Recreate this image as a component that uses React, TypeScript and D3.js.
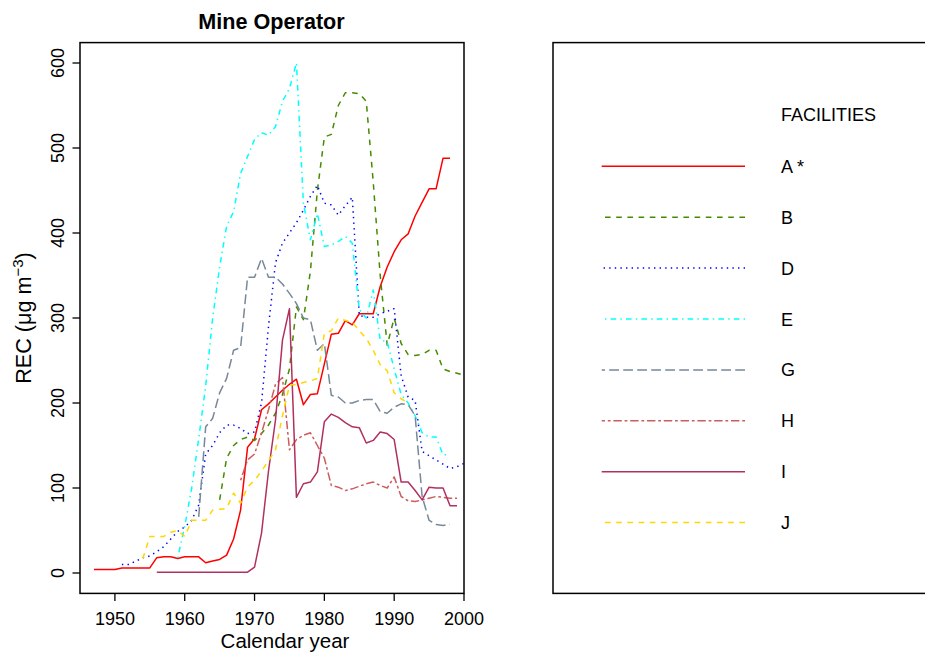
import React from "react";
import * as d3 from "d3";

const facilityLabels = ["A *", "B", "D", "E", "G", "H", "I", "J"];
const facilityColors = ["#FF0000", "#458B00", "#0000FF", "#00FFFF", "#778899", "#CD5C5C", "#B03060", "#FFD700"];
const facilityDashes = ["", "5.6 5.6", "1.4 4.2", "1.4 4.2 5.6 4.2", "9.8 4.2", "2.8 2.8 8.4 2.8", "", "5.6 5.6"];

const startA = 1947;
const recA = [4, 4, 4, 4, 6, 6, 6, 6, 6, 18, 19, 19, 17, 19, 19, 19, 12, 14, 16, 21, 40, 74, 148, 158, 192, 199, 207, 215, 222, 228, 198, 210, 211, 246, 281, 282, 297, 292, 305, 305, 305, 337, 360, 378, 392, 399, 420, 436, 452, 452, 488, 488];
const startB = 1965;
const recB = [86, 135, 150, 157, 160, 156, 164, 174, 188, 210, 240, 313, 298, 355, 450, 513, 516, 550, 565, 565, 564, 555, 460, 350, 268, 300, 270, 257, 256, 257, 262, 262, 240, 237, 235, 233];
const startD = 1951;
const recD = [10, 10, 14, 18, 20, 25, 31, 40, 49, 54, 62, 80, 140, 150, 165, 174, 174, 170, 164, 166, 200, 290, 365, 388, 400, 412, 427, 443, 456, 435, 433, 421, 432, 442, 303, 301, 301, 305, 308, 311, 232, 207, 203, 143, 138, 133, 128, 123, 125, 129];
const startE = 1959;
const recE = [18, 55, 100, 158, 220, 300, 360, 408, 425, 470, 490, 510, 518, 515, 525, 555, 570, 600, 435, 392, 423, 384, 386, 390, 396, 388, 310, 300, 333, 274, 272, 240, 210, 200, 185, 165, 160, 160, 139, 139];
const startG = 1962;
const recG = [66, 172, 182, 212, 229, 262, 265, 348, 348, 370, 348, 348, 340, 329, 317, 300, 298, 262, 270, 209, 207, 200, 200, 203, 204, 204, 190, 188, 195, 199, 198, 185, 90, 62, 57, 56, 57];
const startH = 1968;
const recH = [109, 133, 140, 165, 192, 222, 230, 145, 157, 162, 165, 150, 135, 103, 101, 97, 99, 102, 105, 107, 103, 100, 113, 90, 85, 84, 86, 88, 90, 89, 88, 88];
const startI = 1956;
const recI = [1, 1, 1, 1, 1, 1, 1, 1, 1, 1, 1, 1, 1, 1, 7, 47, 120, 180, 274, 311, 89, 105, 107, 119, 178, 187, 183, 177, 172, 171, 153, 156, 166, 164, 157, 107, 107, 97, 86, 101, 100, 100, 79, 79];
const startJ = 1954;
const recJ = [17, 43, 43, 43, 48, 50, 43, 62, 62, 62, 74, 75, 76, 94, 82, 101, 109, 120, 132, 145, 185, 221, 222, 224, 226, 229, 282, 285, 300, 297, 295, 285, 276, 262, 245, 238, 212, 205, 200];

const seriesStarts = [startA, startB, startD, startE, startG, startH, startI, startJ];
const seriesValues = [recA, recB, recD, recE, recG, recH, recI, recJ];

const xTicks = [1950, 1960, 1970, 1980, 1990, 2000];
const yTicks = [0, 100, 200, 300, 400, 500, 600];

const FONT = "'Liberation Sans', Arial, Helvetica, sans-serif";

export default function App() {
  const x = d3.scaleLinear().domain([1945, 2000]).range([80, 464]);
  const y = d3.scaleLinear().domain([-24, 624]).range([593.4, 42.6]);
  const line = d3
    .line<[number, number]>()
    .x((d) => x(d[0]))
    .y((d) => y(d[1]));

  const plotL = 80, plotR = 464, plotT = 42.6, plotB = 593.4;

  return (
    <svg
      width={925}
      height={652}
      style={{ position: "absolute", left: 0, top: 0, background: "#fff" }}
      fontFamily={FONT}
    >
      <rect x={0} y={0} width={925} height={652} fill="#fff" />
      <defs>
        <clipPath id="plotclip">
          <rect x={plotL} y={plotT} width={plotR - plotL} height={plotB - plotT} />
        </clipPath>
      </defs>
      {/* Title */}
      <text x={271.5} y={29} textAnchor="middle" fontWeight="bold" fontSize={21.6} fill="#000">
        Mine Operator
      </text>

      {/* Series */}
      <g clipPath="url(#plotclip)">
        {seriesValues.map((vals, i) => {
          const pts: [number, number][] = vals.map((v, k) => [seriesStarts[i] + k, v]);
          return (
            <path
              key={i}
              d={line(pts) || ""}
              fill="none"
              stroke={facilityColors[i]}
              strokeWidth={1.5}
              strokeDasharray={facilityDashes[i] || undefined}
              strokeLinejoin="round"
            />
          );
        })}
      </g>

      {/* Plot box */}
      <rect x={plotL} y={plotT} width={plotR - plotL} height={plotB - plotT} fill="none" stroke="#000" strokeWidth={1.5} />

      {/* X axis */}
      {xTicks.map((t) => (
        <g key={t}>
          <line x1={x(t)} x2={x(t)} y1={plotB} y2={plotB + 7.5} stroke="#000" strokeWidth={1.3} />
          <text x={x(t)} y={624.5} textAnchor="middle" fontSize={18} fill="#000">
            {t}
          </text>
        </g>
      ))}
      <text x={285} y={648} textAnchor="middle" fontSize={20.5} fill="#000">
        Calendar year
      </text>

      {/* Y axis */}
      {yTicks.map((t) => (
        <g key={t}>
          <line x1={plotL} x2={plotL - 7.5} y1={y(t)} y2={y(t)} stroke="#000" strokeWidth={1.3} />
          <text
            transform={`translate(63.5,${y(t)}) rotate(-90)`}
            textAnchor="middle"
            fontSize={18}
            fill="#000"
          >
            {t}
          </text>
        </g>
      ))}
      <text transform={`translate(30.5,318) rotate(-90)`} textAnchor="middle" fontSize={21.6} fill="#000">
        REC (μg m
        <tspan fontSize={15} dy={-8}>
          −3
        </tspan>
        <tspan dy={8}>)</tspan>
      </text>

      {/* Legend */}
      <rect x={553} y={42.6} width={420} height={550.8} fill="none" stroke="#000" strokeWidth={1.5} />
      <text x={781} y={121} fontSize={18} fill="#000">
        FACILITIES
      </text>
      {facilityLabels.map((lab, i) => {
        const ly = 166.3 + i * 50.9;
        return (
          <g key={lab}>
            <path
              d={`M745,${ly}L601.7,${ly}`}
              stroke={facilityColors[i]}
              strokeWidth={1.5}
              strokeDasharray={facilityDashes[i] || undefined}
              fill="none"
            />
            <text x={781} y={ly + 6.5} fontSize={18} fill="#000">
              {lab}
            </text>
          </g>
        );
      })}
    </svg>
  );
}
